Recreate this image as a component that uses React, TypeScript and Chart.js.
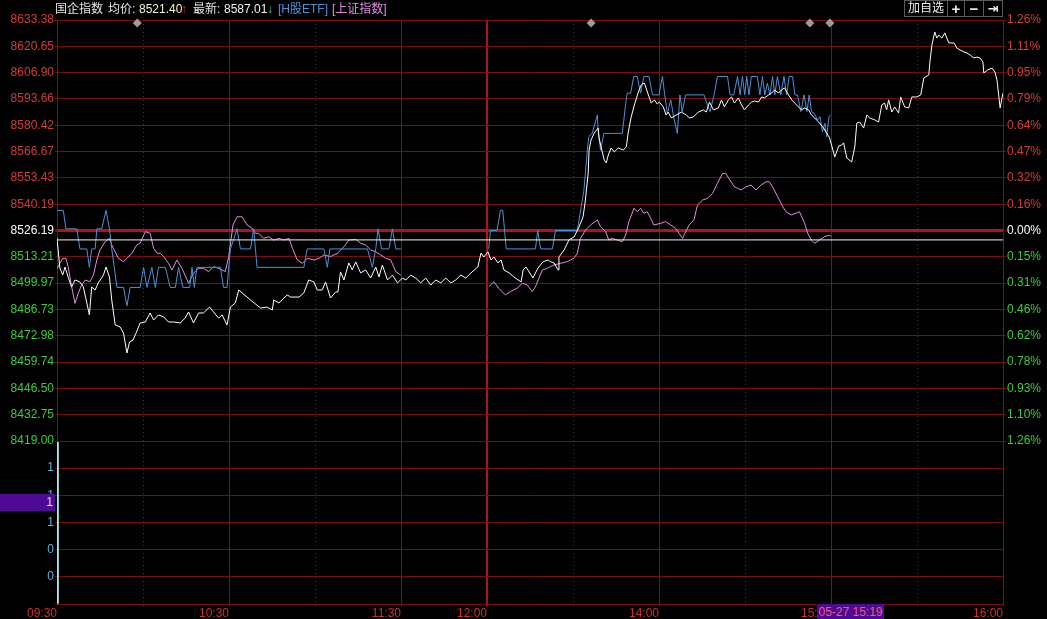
import React, { useEffect, useRef } from 'react';
import { Chart, registerables } from 'chart.js';

Chart.register(...registerables);

// ---------------- data ----------------
const prevClose = 8526.19;
const priceMax = 8633.38;
const priceMin = 8419.0;
const avgPrice = 8521.4;
const lastPrice = 8587.01;
const pctMax = ((priceMax - prevClose) / prevClose) * 100;

const leftTickLabels = ['8633.38', '8620.65', '8606.90', '8593.66', '8580.42', '8566.67', '8553.43', '8540.19', '8526.19', '8513.21', '8499.97', '8486.73', '8472.98', '8459.74', '8446.50', '8432.75', '8419.00'];
const rightTickLabels = ['1.26%', '1.11%', '0.95%', '0.79%', '0.64%', '0.47%', '0.32%', '0.16%', '0.00%', '0.15%', '0.31%', '0.46%', '0.62%', '0.78%', '0.93%', '1.10%', '1.26%'];
const gridMinutes = [0, 30, 60, 90, 120, 150, 180, 210, 240, 270, 300, 330];
const timeLabelMinutes = [0, 60, 120, 150, 210, 270, 330];
const timeLabels = ['09:30', '10:30', '11:30', '12:00', '14:00', '15:00', '16:00'];
const volumeTickValues = [6, 5, 4, 3, 2, 1, 0];
const volumeTickLabels = ['', '1', '1', '1', '0', '0', ''];
const volumePoints: [number, number][] = [[0, 6]];
const markerMinutes = [28, 186.3, 262.6, 269.6];
const markerPrice = 8631.8;
const lunchBreakMinute = 135;

// 国企指数 (minute, price)
const indexPoints: [number, number][] = [
  [0, 8522.2], [1.0, 8507.1], [2.0, 8503.5], [2.8, 8507.6], [4.0, 8502.0], [5.1, 8497.4], [6.3, 8501.0], [8.0, 8500.0],
  [9.2, 8497.4], [10.4, 8489.3], [11.3, 8483.2], [12.1, 8497.4], [13.3, 8495.9], [14.4, 8499.5], [16.2, 8503.5], [17.1, 8507.6],
  [18.3, 8502.5], [19.1, 8490.8], [20.3, 8478.1], [22.0, 8477.1], [23.2, 8474.0], [24.4, 8463.8], [25.3, 8469.4], [26.5, 8470.4],
  [27.6, 8474.0], [29.0, 8479.1], [30.8, 8479.6], [32.5, 8484.2], [33.7, 8480.6], [35.4, 8483.2], [37.2, 8482.2], [38.9, 8479.6],
  [40.7, 8479.6], [43.0, 8479.1], [44.7, 8481.6], [45.9, 8484.7], [47.6, 8479.1], [49.4, 8484.2], [51.1, 8484.2], [53.2, 8487.2],
  [54.6, 8484.7], [56.4, 8481.6], [57.6, 8483.2], [59.3, 8478.1], [60.5, 8487.2], [62.2, 8489.3], [63.4, 8495.9], [64.6, 8494.4],
  [67.5, 8490.8], [71.0, 8486.7], [73.3, 8487.2], [75.1, 8485.7], [75.6, 8490.8], [77.4, 8489.3], [80.3, 8493.4], [81.5, 8492.3],
  [84.4, 8492.3], [86.1, 8494.4], [87.8, 8501.0], [89.6, 8500.0], [90.8, 8495.9], [92.5, 8495.9], [93.7, 8500.0], [95.4, 8491.8],
  [97.2, 8494.9], [98.0, 8494.9], [98.9, 8505.1], [100.1, 8501.0], [101.8, 8509.7], [103.0, 8506.1], [104.2, 8510.2], [105.9, 8504.6],
  [107.7, 8506.1], [109.4, 8502.0], [111.2, 8507.6], [112.3, 8502.5], [113.5, 8508.6], [115.3, 8501.0], [117.0, 8503.5], [118.8, 8499.5],
  [120.5, 8502.0], [121.7, 8501.0], [123.4, 8503.5], [125.1, 8502.0], [126.9, 8499.5], [128.6, 8502.0], [130.4, 8498.4], [132.1, 8501.0],
  [133.9, 8499.5], [135.6, 8502.0], [137.4, 8499.5], [139.1, 8501.0], [140.9, 8503.5], [142.6, 8502.0], [144.4, 8504.6], [146.8, 8507.6],
  [147.9, 8514.7], [148.9, 8512.7], [150.3, 8515.3], [151.4, 8511.2], [152.4, 8512.7], [153.8, 8509.7], [154.9, 8511.2], [155.9, 8506.1],
  [157.7, 8504.6], [159.4, 8502.5], [161.9, 8500.0], [162.6, 8506.1], [163.6, 8507.6], [164.7, 8505.1], [166.0, 8502.0], [167.8, 8507.1],
  [169.5, 8510.2], [171.3, 8511.2], [172.3, 8510.2], [173.4, 8509.7], [174.8, 8506.1], [175.1, 8512.7], [176.9, 8516.3], [178.6, 8521.4],
  [180.4, 8522.9], [182.1, 8528.0], [183.5, 8533.1], [184.2, 8540.2], [185.3, 8555.5], [185.6, 8567.2], [186.3, 8572.3], [187.4, 8575.8],
  [188.8, 8578.4], [189.1, 8573.3], [189.8, 8568.7], [190.9, 8562.1], [191.6, 8560.6], [192.3, 8564.6], [193.3, 8568.2], [194.4, 8566.2],
  [195.8, 8568.2], [197.5, 8567.2], [198.6, 8568.7], [199.3, 8576.4], [200.3, 8584.0], [201.4, 8590.1], [202.8, 8596.7], [203.8, 8600.3],
  [204.9, 8601.3], [206.3, 8595.2], [207.3, 8591.1], [208.4, 8592.7], [209.4, 8590.6], [210.1, 8591.6], [211.5, 8589.1], [212.5, 8585.0],
  [213.2, 8586.5], [214.3, 8583.5], [216.0, 8585.0], [217.8, 8586.5], [219.5, 8585.0], [220.6, 8583.5], [222.0, 8584.0], [223.7, 8586.5],
  [225.5, 8587.6], [226.5, 8586.5], [227.6, 8591.6], [229.0, 8587.6], [230.7, 8588.6], [231.8, 8592.7], [232.8, 8589.1], [234.2, 8592.7],
  [235.3, 8594.2], [236.3, 8591.1], [237.7, 8593.7], [238.8, 8590.1], [239.8, 8587.6], [241.2, 8590.1], [242.3, 8591.6], [243.3, 8592.1],
  [244.7, 8591.6], [245.8, 8594.2], [246.8, 8593.7], [248.2, 8595.2], [249.3, 8596.2], [250.3, 8597.7], [251.7, 8596.2], [252.7, 8597.7],
  [253.8, 8598.8], [255.2, 8595.2], [256.3, 8592.7], [258.0, 8590.1], [259.7, 8587.6], [260.8, 8588.6], [262.2, 8587.6], [263.2, 8585.0],
  [264.3, 8583.5], [266.0, 8580.9], [267.4, 8578.4], [268.5, 8575.8], [269.5, 8573.3], [270.2, 8569.7], [271.3, 8563.6], [272.7, 8569.2],
  [273.7, 8569.7], [274.4, 8570.8], [275.5, 8563.1], [277.2, 8561.1], [278.3, 8568.7], [279.0, 8580.9], [280.0, 8581.4], [281.4, 8578.4],
  [282.5, 8585.0], [283.5, 8583.5], [285.3, 8582.5], [286.6, 8581.4], [287.7, 8590.1], [288.7, 8591.1], [289.4, 8587.6], [290.1, 8592.7],
  [291.2, 8586.5], [292.2, 8589.1], [293.6, 8586.0], [294.3, 8594.2], [295.7, 8589.1], [297.1, 8588.6], [298.2, 8594.2], [299.9, 8594.2],
  [301.3, 8595.2], [302.4, 8603.9], [304.1, 8605.4], [304.5, 8612.0], [305.2, 8620.7], [306.2, 8627.3], [306.9, 8624.2], [307.6, 8625.7],
  [308.7, 8624.2], [309.7, 8626.8], [311.1, 8621.7], [312.9, 8621.7], [313.9, 8619.1], [315.0, 8618.1], [316.4, 8617.1], [317.4, 8616.6],
  [318.5, 8615.6], [319.9, 8614.0], [320.9, 8614.5], [322.0, 8614.0], [323.0, 8612.0], [323.3, 8606.4], [324.6, 8607.9], [326.2, 8608.9],
  [327.2, 8606.9], [327.9, 8602.8], [329.0, 8588.6], [330, 8596.2],
];

// H股ETF (minute, % change)
const etfMorning: [number, number][] = [
  [0, 0.12], [2.2, 0.12], [3.1, 0.01], [6.9, 0.01], [8.0, -0.11], [10.4, -0.11], [11.3, -0.22], [12.1, -0.11], [13.3, -0.11],
  [13.9, 0.01], [15.6, 0.01], [17.1, 0.12], [18.3, 0.01], [19.1, -0.11], [20.9, -0.34], [23.2, -0.34], [24.4, -0.45], [25.5, -0.34],
  [29.0, -0.34], [30.2, -0.22], [31.4, -0.34], [33.1, -0.22], [34.3, -0.34], [35.4, -0.22], [37.8, -0.22], [39.5, -0.34], [41.3, -0.34],
  [42.4, -0.22], [43.9, -0.34], [46.3, -0.34], [47.1, -0.22], [47.9, -0.34], [48.8, -0.22], [57.0, -0.22], [58.1, -0.34], [59.3, -0.34],
  [60.5, -0.11], [62.8, 0.01], [64.0, -0.11], [67.5, -0.11], [68.6, 0.01], [69.8, -0.22], [86.1, -0.22], [87.3, -0.11], [93.1, -0.11],
  [94.3, -0.22], [95.2, -0.11], [108.3, -0.11], [110.0, -0.22], [111.2, -0.11], [112.0, 0.01], [113.2, -0.11], [115.8, -0.11],
  [117.0, 0.01], [118.2, -0.11], [120, -0.11],
];
const etfAfternoon: [number, number][] = [
  [150.6, -0.11], [151.2, 0.0], [153.5, 0.0], [154.7, 0.12], [155.5, 0.12], [156.7, -0.11], [166.9, -0.11], [167.7, 0.0], [168.7, -0.11],
  [172.8, -0.11], [173.9, 0.0], [181.5, 0.0], [183.8, 0.24], [185.0, 0.48], [185.5, 0.56], [186.7, 0.58], [188.5, 0.69], [188.8, 0.59],
  [189.6, 0.48], [190.8, 0.58], [197.2, 0.58], [198.4, 0.76], [198.9, 0.82], [200.1, 0.82], [201.2, 0.92], [202.4, 0.92], [203.6, 0.82],
  [204.7, 0.92], [206.5, 0.92], [207.7, 0.81], [210.0, 0.81], [211.2, 0.92], [212.0, 0.81], [212.9, 0.7], [214.1, 0.78], [215.2, 0.67],
  [216.4, 0.58], [217.3, 0.81], [218.1, 0.71], [219.3, 0.81], [225.7, 0.81], [226.9, 0.75], [227.8, 0.71], [229.2, 0.81], [230.4, 0.92],
  [233.9, 0.92], [234.8, 0.81], [236.1, 0.81], [237.4, 0.92], [238.3, 0.81], [239.1, 0.92], [239.9, 0.81], [240.6, 0.92], [241.4, 0.81],
  [242.2, 0.92], [244.3, 0.92], [245.2, 0.81], [246.1, 0.92], [246.9, 0.81], [247.8, 0.88], [248.7, 0.81], [249.6, 0.92], [250.4, 0.81],
  [251.3, 0.92], [252.5, 0.81], [253.6, 0.92], [254.5, 0.81], [255.4, 0.92], [256.6, 0.92], [257.4, 0.81], [258.3, 0.81], [259.5, 0.71],
  [260.6, 0.81], [261.6, 0.71], [262.4, 0.81], [263.2, 0.71], [264.1, 0.7], [265.3, 0.66], [266.2, 0.68], [267.0, 0.59], [267.9, 0.64],
  [268.5, 0.56], [269.3, 0.68], [269.9, 0.69],
];

// 上证指数 (minute, % change)
const shMorning: [number, number][] = [
  [0, -0.226], [2.0, -0.166], [3.1, -0.166], [3.9, -0.216], [5.1, -0.336], [6.3, -0.435], [7.4, -0.375], [8.6, -0.325], [9.8, -0.296],
  [11.5, -0.306], [12.7, -0.266], [13.9, -0.176], [15.0, -0.116], [16.8, -0.067], [18.3, -0.047], [19.1, -0.087], [20.3, -0.127],
  [21.4, -0.166], [23.2, -0.186], [24.4, -0.166], [26.1, -0.136], [27.8, -0.087], [29.0, -0.076], [30.8, -0.007], [32.5, -0.017],
  [33.7, -0.106], [34.9, -0.136], [36.0, -0.136], [37.2, -0.156], [38.9, -0.196], [40.1, -0.236], [41.8, -0.176], [43.6, -0.226],
  [45.9, -0.315], [47.6, -0.256], [49.4, -0.226], [51.1, -0.226], [52.9, -0.246], [54.6, -0.216], [56.4, -0.226], [58.7, -0.246],
  [59.9, -0.156], [61.4, 0.033], [62.8, 0.082], [64.6, 0.082], [66.3, 0.033], [68.1, 0.013], [69.2, -0.017], [70.4, -0.017],
  [72.1, -0.047], [73.9, -0.037], [75.6, -0.057], [77.4, -0.047], [79.1, -0.057], [80.9, -0.047], [82.1, -0.106], [83.8, -0.176],
  [85.6, -0.196], [87.3, -0.166], [89.6, -0.176], [91.4, -0.166], [93.1, -0.146], [95.4, -0.156], [97.8, -0.136], [100.1, -0.097],
  [101.8, -0.057], [104.2, -0.053], [105.9, -0.076], [107.7, -0.087], [109.4, -0.116], [111.2, -0.127], [112.9, -0.146], [114.7, -0.166],
  [116.4, -0.176], [118.2, -0.246], [119.9, -0.266],
];
const shAfternoon: [number, number][] = [
  [150.6, -0.336], [152.4, -0.306], [154.1, -0.345], [156.4, -0.385], [158.2, -0.365], [160.5, -0.345], [162.3, -0.315], [164.0, -0.325],
  [165.8, -0.365], [166.9, -0.336], [168.1, -0.285], [169.3, -0.236], [171.0, -0.226], [173.3, -0.206], [175.7, -0.196], [178.0, -0.186],
  [180.3, -0.166], [181.5, -0.136], [182.6, -0.047], [184.4, 0.003], [186.1, 0.033], [188.5, 0.063], [189.6, 0.023], [191.4, -0.007],
  [192.5, -0.057], [193.7, -0.047], [195.5, -0.057], [197.2, -0.067], [198.4, -0.027], [199.5, 0.053], [201.3, 0.133], [202.4, 0.112],
  [203.6, 0.133], [204.7, 0.103], [205.9, 0.112], [207.1, 0.073], [208.2, 0.033], [210.6, 0.043], [212.3, 0.053], [214.1, 0.033],
  [215.8, 0.013], [217.0, -0.017], [218.2, -0.047], [219.3, -0.007], [220.5, 0.033], [222.2, 0.063], [223.4, 0.152], [225.2, 0.182],
  [226.9, 0.192], [228.7, 0.222], [230.4, 0.282], [232.2, 0.341], [233.3, 0.341], [235.1, 0.291], [236.3, 0.261], [237.4, 0.252],
  [238.6, 0.242], [240.3, 0.261], [242.1, 0.272], [243.8, 0.242], [245.6, 0.272], [247.3, 0.291], [248.5, 0.291], [249.6, 0.261],
  [251.4, 0.202], [253.2, 0.142], [254.3, 0.112], [256.1, 0.093], [257.8, 0.103], [259.0, 0.112], [260.8, 0.043], [261.9, -0.017],
  [263.1, -0.057], [264.3, -0.076], [266.0, -0.057], [267.8, -0.037], [269.5, -0.027], [270.0, -0.037],
];

// ---------------- styles ----------------
const GRID = '#7a0c0c';
const VGRID = '#8a0e0e';
const VDOT = '#960f0f';
const NOON = '#a81616';
const ZERO = '#b0121e';
const RED = '#d83a3a';
const GREEN = '#3ccc3c';
const FONT = "'Liberation Sans', 'Noto Sans CJK SC', sans-serif";
const W = 1047;
const H = 619;

const toXY = (pts: [number, number][]) => pts.map(([x, y]) => ({ x, y }));
const withGap = (a: [number, number][], b: [number, number][]) => [
  ...toXY(a),
  { x: lunchBreakMinute, y: null as any },
  ...toXY(b),
];
const isLabeledMinute = (v: number) => timeLabelMinutes.includes(v);
const xGridColor = (ctx: any) => {
  if (!ctx.tick) return VGRID;
  if (ctx.tick.value === 150) return NOON;
  return isLabeledMinute(ctx.tick.value) ? VGRID : VDOT;
};
const xGridWidth = (ctx: any) => (ctx.tick && ctx.tick.value === 150 ? 2 : 1);
const xGridDash = (ctx: any) => (ctx.tick && !isLabeledMinute(ctx.tick.value) ? [1, 3] : []);
const setXTicks = (s: any) => {
  s.ticks = gridMinutes.map((v) => ({ value: v }));
};
const labelColor = (ctx: any) => (ctx.index < 8 ? RED : ctx.index === 8 ? '#ffffff' : GREEN);

export default function App() {
  const topRef = useRef<HTMLCanvasElement>(null);
  const botRef = useRef<HTMLCanvasElement>(null);

  useEffect(() => {
    const lineBase = { pointRadius: 0, borderWidth: 1, tension: 0, fill: false, spanGaps: false };
    const top = new Chart(topRef.current as HTMLCanvasElement, {
      type: 'line',
      data: {
        datasets: [
          {
            label: 'markers',
            data: markerMinutes.map((m) => ({ x: m, y: markerPrice })),
            showLine: false,
            pointStyle: 'rectRot',
            pointRadius: 4.5,
            backgroundColor: '#9c9c9c',
            borderColor: '#9c9c9c',
            borderWidth: 0,
            clip: false,
            order: 0,
          } as any,
          { ...lineBase, label: '国企指数', data: toXY(indexPoints), borderColor: '#ffffff', yAxisID: 'y', order: 1 },
          { ...lineBase, label: '均价', data: [{ x: 0, y: avgPrice }, { x: 330, y: avgPrice }], borderColor: '#f6f6e6', yAxisID: 'y', order: 2 },
          { ...lineBase, label: 'H股ETF', data: withGap(etfMorning, etfAfternoon), borderColor: '#4b92d6', yAxisID: 'yp', order: 3 },
          { ...lineBase, label: '上证指数', data: withGap(shMorning, shAfternoon), borderColor: '#e28ee2', yAxisID: 'yp', order: 4 },
        ] as any,
      },
      options: {
        responsive: false,
        animation: false,
        events: [],
        layout: { padding: { top: 20, bottom: 178, left: 0, right: 0 } },
        plugins: { legend: { display: false }, tooltip: { enabled: false } },
        scales: {
          x: {
            type: 'linear',
            min: 0,
            max: 330,
            bounds: 'data',
            afterBuildTicks: setXTicks,
            afterFit: (s: any) => {
              s.height = 0;
            },
            ticks: { display: false },
            grid: { color: xGridColor, lineWidth: xGridWidth, drawTicks: false },
            border: { display: false, dash: xGridDash },
          },
          y: {
            type: 'linear',
            position: 'left',
            min: priceMin,
            max: priceMax,
            bounds: 'data',
            afterBuildTicks: (s: any) => {
              s.ticks = leftTickLabels.map((_, i) => ({ value: priceMax - (i * (priceMax - priceMin)) / 16 }));
            },
            afterFit: (s: any) => {
              s.width = 57;
            },
            ticks: {
              autoSkip: false,
              padding: 1,
              color: labelColor,
              font: { family: FONT, size: 12 },
              callback: (_v: any, i: number) => leftTickLabels[i],
            },
            grid: {
              color: (ctx: any) => (ctx.index === 8 ? ZERO : GRID),
              lineWidth: (ctx: any) => (ctx.index === 8 ? 3 : 1),
              tickLength: 2,
              tickColor: GRID,
            },
            border: { color: VGRID },
          },
          yp: {
            type: 'linear',
            position: 'right',
            min: -pctMax,
            max: pctMax,
            bounds: 'data',
            afterBuildTicks: (s: any) => {
              s.ticks = rightTickLabels.map((_, i) => ({ value: pctMax - (i * 2 * pctMax) / 16 }));
            },
            afterFit: (s: any) => {
              s.width = 44;
            },
            ticks: {
              autoSkip: false,
              padding: 1,
              color: labelColor,
              font: { family: FONT, size: 12 },
              callback: (_v: any, i: number) => rightTickLabels[i],
            },
            grid: { drawOnChartArea: false, tickLength: 3, color: GRID },
            border: { color: VGRID },
          },
        } as any,
      },
    });

    const bot = new Chart(botRef.current as HTMLCanvasElement, {
      type: 'bar',
      data: {
        datasets: [
          {
            label: '成交量',
            data: toXY(volumePoints),
            backgroundColor: '#a8e6f0',
            barThickness: 3,
            xAxisID: 'x',
            yAxisID: 'yv',
          } as any,
        ],
      },
      options: {
        responsive: false,
        animation: false,
        events: [],
        layout: { padding: { top: 441, bottom: 0, left: 0, right: 0 } },
        plugins: { legend: { display: false }, tooltip: { enabled: false } },
        scales: {
          x: {
            type: 'linear',
            min: 0,
            max: 330,
            offset: false,
            bounds: 'data',
            afterBuildTicks: setXTicks,
            afterFit: (s: any) => {
              s.height = 15;
            },
            ticks: {
              autoSkip: false,
              maxRotation: 0,
              align: 'end',
              padding: 0,
              color: '#cc3030',
              font: { family: FONT, size: 12 },
              callback: (v: any) => {
                const k = timeLabelMinutes.indexOf(Number(v));
                return k >= 0 ? timeLabels[k] : '';
              },
            },
            grid: { offset: false, color: xGridColor, lineWidth: xGridWidth, tickLength: 2, drawTicks: true },
            border: { display: true, color: GRID, dash: xGridDash },
          },
          yv: {
            type: 'linear',
            axis: 'y',
            position: 'left',
            min: 0,
            max: 6,
            bounds: 'data',
            afterBuildTicks: (s: any) => {
              s.ticks = volumeTickValues.map((v) => ({ value: v }));
            },
            afterFit: (s: any) => {
              s.width = 57;
            },
            ticks: {
              autoSkip: false,
              padding: 1,
              color: '#5cb4dc',
              font: { family: FONT, size: 12 },
              callback: (_v: any, i: number) => volumeTickLabels[i],
            },
            grid: { color: GRID, tickLength: 2, tickColor: GRID },
            border: { color: GRID },
          },
          yr: {
            type: 'linear',
            axis: 'y',
            position: 'right',
            display: true,
            min: 0,
            max: 6,
            afterFit: (s: any) => {
              s.width = 44;
            },
            ticks: { display: false },
            grid: { drawOnChartArea: false, drawTicks: false },
            border: { color: VGRID },
          },
        } as any,
      },
    });

    return () => {
      top.destroy();
      bot.destroy();
    };
  }, []);

  const hdr: React.CSSProperties = {
    position: 'absolute',
    top: 1,
    fontSize: 12,
    lineHeight: '16px',
    whiteSpace: 'nowrap',
    fontFamily: FONT,
  };
  const btn: React.CSSProperties = {
    position: 'absolute',
    top: 0,
    height: 17,
    border: '1px solid #5a5a5a',
    boxSizing: 'border-box',
    color: '#f0f0f0',
    fontSize: 12,
    lineHeight: '15px',
    textAlign: 'center',
    fontFamily: FONT,
    background: '#000',
  };

  return (
    <div style={{ position: 'fixed', left: 0, top: 0, width: W, height: H, background: '#000', overflow: 'hidden' }}>
      <canvas ref={botRef} width={W} height={H} style={{ position: 'absolute', left: 0, top: 0 }} />
      <canvas ref={topRef} width={W} height={H} style={{ position: 'absolute', left: 0, top: 0 }} />

      <span style={{ ...hdr, left: 55, color: '#e6e6e6' }}>国企指数</span>
      <span style={{ ...hdr, left: 108, color: '#e6e6e6' }}>均价:</span>
      <span style={{ ...hdr, left: 139, color: '#f2f2d2' }}>{avgPrice.toFixed(2)}</span>
      <span style={{ ...hdr, left: 181, color: '#e03030', fontWeight: 700 }}>↑</span>
      <span style={{ ...hdr, left: 193, color: '#e6e6e6' }}>最新:</span>
      <span style={{ ...hdr, left: 224, color: '#f0f0f0' }}>{lastPrice.toFixed(2)}</span>
      <span style={{ ...hdr, left: 267, color: '#28c8b0', fontWeight: 700 }}>↓</span>
      <span style={{ ...hdr, left: 278, color: '#4b92d6' }}>[H股ETF]</span>
      <span style={{ ...hdr, left: 332, color: '#e08ee0' }}>[上证指数]</span>

      <div style={{ ...btn, left: 904, width: 44 }}>加自选</div>
      <div style={{ ...btn, left: 947, width: 18, fontWeight: 700, fontSize: 15 }}>+</div>
      <div style={{ ...btn, left: 964, width: 20, fontWeight: 700, fontSize: 15 }}>−</div>
      <div style={{ ...btn, left: 983, width: 20, fontWeight: 700, fontFamily: "'DejaVu Sans', sans-serif", fontSize: 13 }}>⇥</div>

      <div
        style={{
          position: 'absolute', left: 0, top: 494, width: 55, height: 17, background: '#4e0a92',
          color: '#d8d8ff', fontSize: 12, lineHeight: '17px', textAlign: 'right', paddingRight: 2,
          boxSizing: 'border-box', fontFamily: FONT,
        }}
      >
        1
      </div>
      <div
        style={{
          position: 'absolute', left: 817, top: 604, width: 67, height: 15, background: '#4e0a92',
          color: '#f05a78', fontSize: 12, lineHeight: '16px', textAlign: 'center', fontFamily: FONT,
        }}
      >
        05-27 15:19
      </div>
    </div>
  );
}
